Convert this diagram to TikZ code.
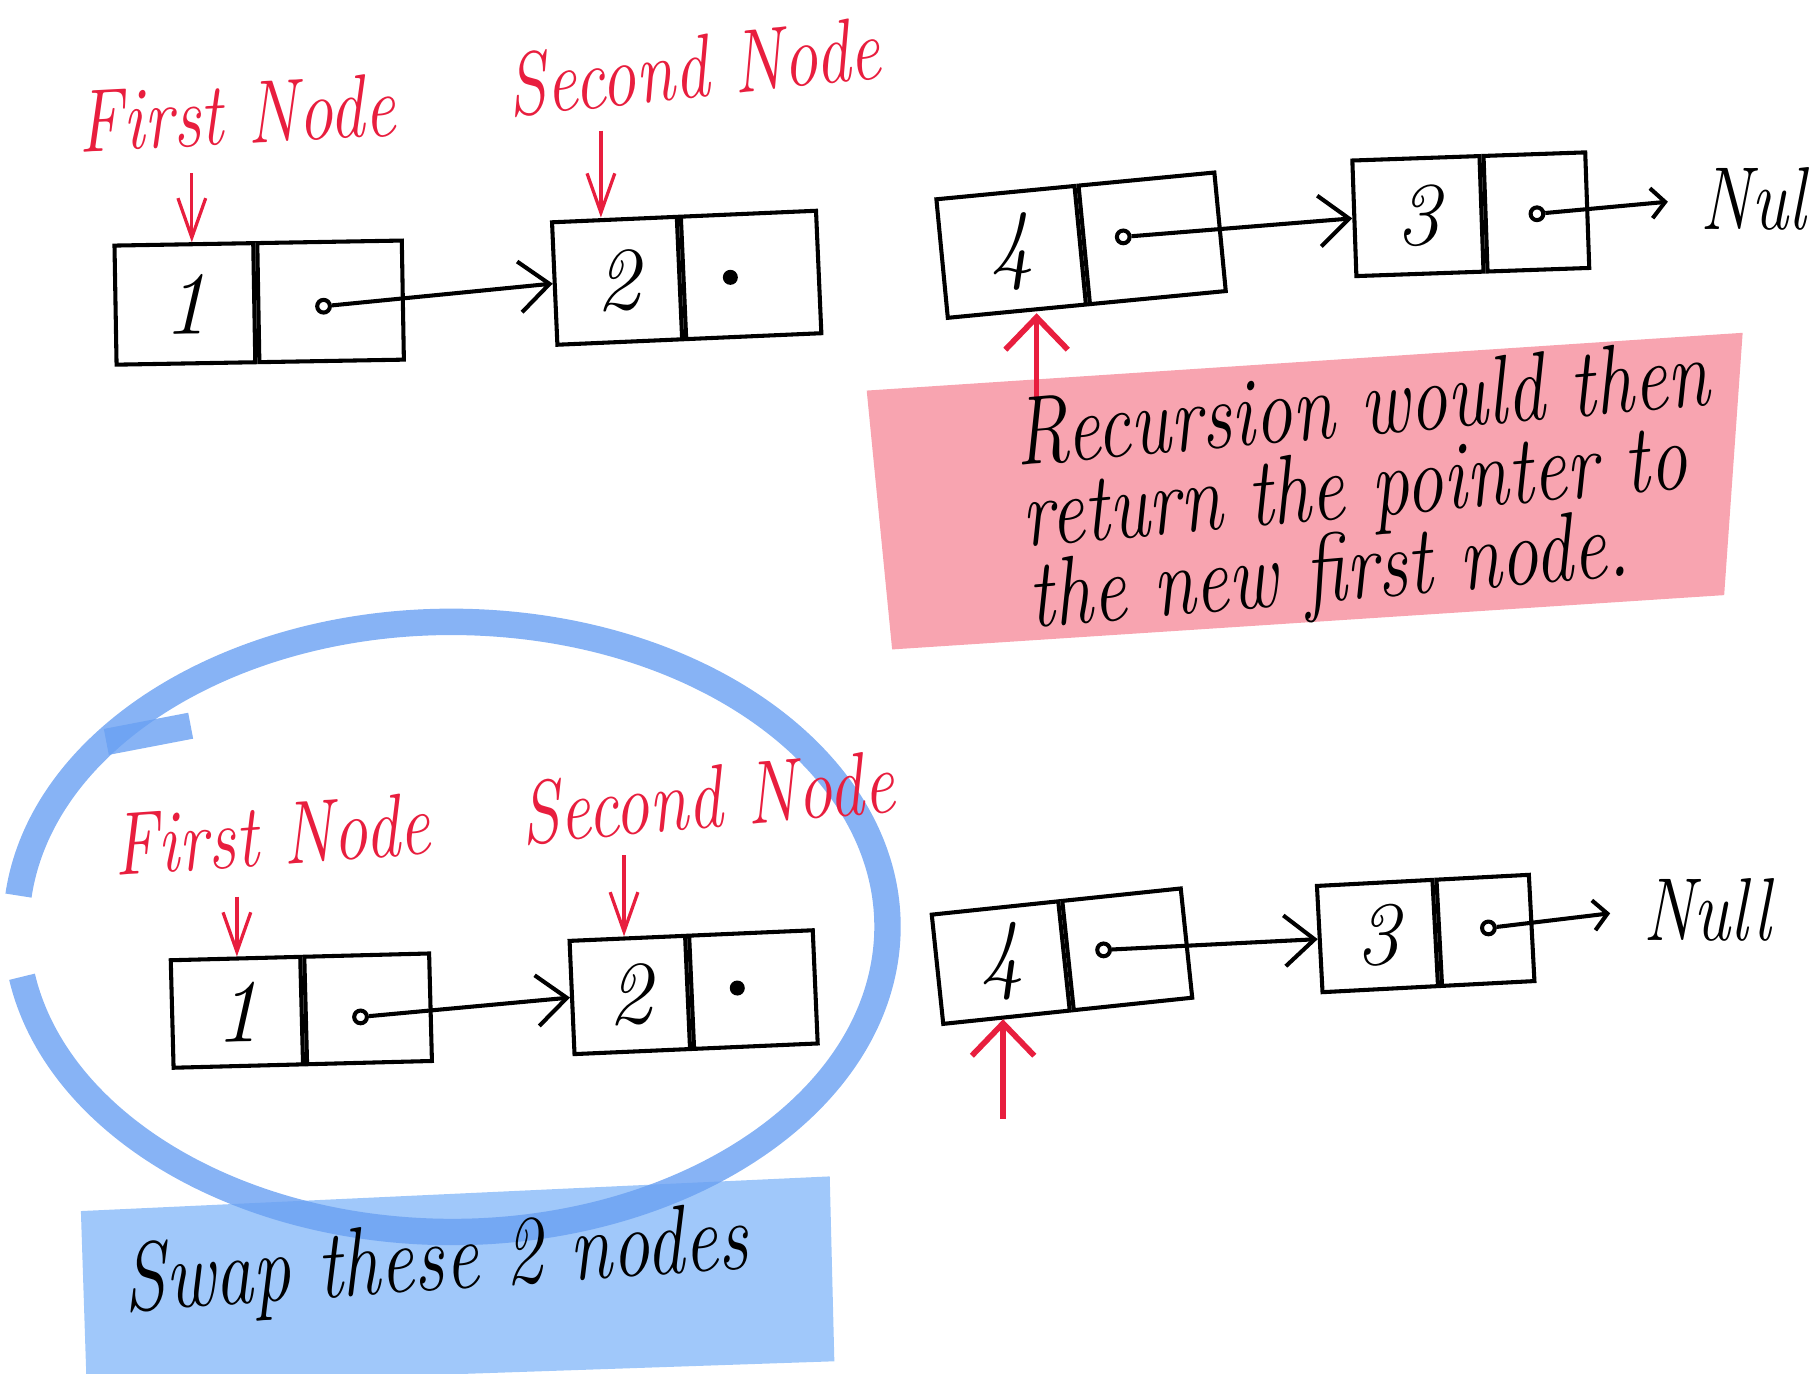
\documentclass[tikz,border=0pt]{standalone}
\usepackage{graphicx}
\usetikzlibrary{arrows.meta}
\definecolor{pen}{RGB}{232,30,62}
\definecolor{hlpink}{RGB}{248,164,176}
\definecolor{hlblue}{RGB}{160,200,250}
\definecolor{loopblue}{RGB}{105,160,242}
\newcommand{\hw}[2]{\scalebox{0.78}[1]{\fontsize{#1}{#1}\selectfont\itshape #2}}
\newcommand{\hwlines}[4]{\scalebox{0.78}[1]{\fontsize{#1}{20}\selectfont\itshape
  \vtop{\baselineskip=20pt\lineskiplimit=-100pt\hbox{#2}\hbox{#3}\hbox{#4}}}}
\tikzset{
  cell/.style={draw, line width=1pt, inner sep=0pt, font=\fontsize{22}{22}\selectfont\itshape},
  ptrdot/.style={circle, draw, line width=1pt, inner sep=0pt, minimum size=1.1mm},
  fulldot/.style={circle, fill, inner sep=0pt, minimum size=1.3mm},
  ptr/.style={line width=1pt, -{Straight Barb[length=2.6mm,width=4.4mm]}},
  ptrsmall/.style={line width=1pt, -{Straight Barb[length=1.2mm,width=2.6mm]}},
  redlabel/.style={text=pen, inner sep=0pt},
  redptr/.style={draw=pen, line width=0.8pt, -{Straight Barb[length=3.4mm,width=2.4mm]}},
  upptr/.style={draw=pen, line width=1.4pt, -{Straight Barb[length=2.8mm,width=5.4mm]}},
  loopstroke/.style={draw=loopblue, draw opacity=0.8, line width=6.5pt},
  blacktext/.style={anchor=base west, inner sep=0pt},
  softpink/.style={fill=hlpink},
  softblue/.style={fill=hlblue},
}
\begin{document}
\begin{tikzpicture}[x=0.01cm, y=-0.01cm]
\useasboundingbox (0,0) rectangle (1568,1189);
\begin{scope}
\clip (0,0) rectangle (1568,1189);
% highlights
\path[softpink] (750,338) -- (1508,288) -- (1492,515) -- (772,562) -- cycle;
\path[softblue] (70,1048) -- (718,1018) -- (722,1178) -- (75,1200) -- cycle;
\draw[loopstroke] (16,775) arc[start angle=185.9, end angle=530.6, x radius=377, y radius=264];
\draw[loopstroke] (92,642) -- (165,628);

% ---------- top row ----------
\node[cell, minimum width=1.2cm, minimum height=1.03cm, rotate=1] (t1a) at (160,263) {1};
\node[cell, minimum width=1.25cm, minimum height=1.03cm, rotate=1, anchor=west] (t1b) at (t1a.east) {};
\node[cell, minimum width=1.08cm, minimum height=1.06cm, rotate=2.5] (t2a) at (534,243) {2};
\node[cell, minimum width=1.17cm, minimum height=1.06cm, rotate=2.5, anchor=west] (t2b) at (t2a.east) {};
\node[cell, minimum width=1.2cm, minimum height=1.03cm, rotate=5.5] (t4a) at (875,218) {4};
\node[cell, minimum width=1.18cm, minimum height=1.03cm, rotate=5.5, anchor=west] (t4b) at (t4a.east) {};
\node[cell, minimum width=1.1cm, minimum height=1.0cm, rotate=2] (t3a) at (1227,187) {3};
\node[cell, minimum width=0.88cm, minimum height=1.0cm, rotate=2, anchor=west] (t3b) at (t3a.east) {};

\node[ptrdot] (td1) at (280,265) {};
\node[fulldot] (td2) at (632,240) {};
\node[ptrdot] (td4) at (972,205) {};
\node[ptrdot] (td3) at (1330,185) {};
\node[inner sep=0pt] (tnull) at (1527,172) {\hw{22}{Null}};

\draw[ptr] (td1) -- (t2a.west);
\draw[ptr] (td4) -- (t3a.west);
\draw[ptrsmall, shorten >=2.8mm] (td3) -- (tnull.west);

\node[redlabel, rotate=3] (tfn) at (205,98) {\hw{22}{First Node}};
\node[redlabel, rotate=6] (tsn) at (600,58) {\hw{22}{Second Node}};
\coordinate (ta1) at (166,150);
\coordinate (ta2) at (520,113);
\draw[redptr] (ta1) -- (ta1 |- t1a.north);
\draw[redptr] (ta2) -- (ta2 |- t2a.north);
\coordinate (tu) at (897,345);
\draw[upptr] (tu) -- (tu |- t4a.south);

\node[blacktext, rotate=5] (rtext) at (880,403)
  {\hwlines{24}{Recursion would then}{return the pointer to}{the new first node.}};

% ---------- bottom row ----------
\node[cell, minimum width=1.12cm, minimum height=0.93cm, rotate=1.5] (b1a) at (205,876) {1};
\node[cell, minimum width=1.08cm, minimum height=0.93cm, rotate=1.5, anchor=west] (b1b) at (b1a.east) {};
\node[cell, minimum width=1.0cm, minimum height=0.98cm, rotate=2.5] (b2a) at (545,861) {2};
\node[cell, minimum width=1.07cm, minimum height=0.98cm, rotate=2.5, anchor=west] (b2b) at (b2a.east) {};
\node[cell, minimum width=1.1cm, minimum height=0.95cm, rotate=6] (b4a) at (866,833) {4};
\node[cell, minimum width=1.03cm, minimum height=0.95cm, rotate=6, anchor=west] (b4b) at (b4a.east) {};
\node[cell, minimum width=1.0cm, minimum height=0.92cm, rotate=3] (b3a) at (1192,810) {3};
\node[cell, minimum width=0.8cm, minimum height=0.92cm, rotate=3, anchor=west] (b3b) at (b3a.east) {};

\node[ptrdot] (bd1) at (312,880) {};
\node[fulldot] (bd2) at (638,855) {};
\node[ptrdot] (bd4) at (955,822) {};
\node[ptrdot] (bd3) at (1288,803) {};
\node[inner sep=0pt] (bnull) at (1477,787) {\hw{22}{Null}};

\draw[ptr] (bd1) -- (b2a.west);
\draw[ptr] (bd4) -- (b3a.west);
\draw[ptrsmall, shorten >=2.8mm] (bd3) -- (bnull.west);

\node[redlabel, rotate=4] (bfn) at (235,722) {\hw{22}{First Node}};
\node[redlabel, rotate=5] (bsn) at (612,690) {\hw{22}{Second Node}};
\coordinate (ba1) at (205,776);
\coordinate (ba2) at (540,740);
\draw[redptr] (ba1) -- (ba1 |- b1a.north);
\draw[redptr] (ba2) -- (ba2 |- b2a.north);
\coordinate (bu) at (868,968);
\draw[upptr] (bu) -- (bu |- b4a.south);

\node[blacktext, rotate=4] (swap) at (108,1135) {\hw{24}{Swap these 2 nodes}};
\end{scope}
\end{tikzpicture}
\end{document}
